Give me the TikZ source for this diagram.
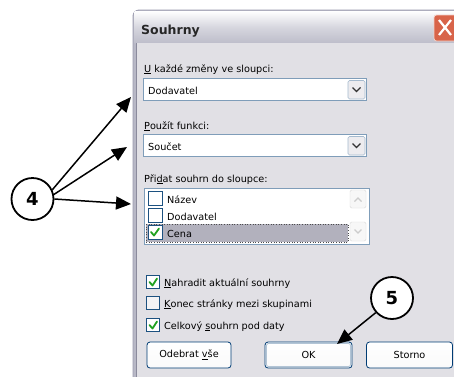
\documentclass[tikz,border=0pt]{standalone}
\usepackage{fontspec}
\setmainfont{DejaVu Sans}
\usetikzlibrary{arrows.meta}
\definecolor{dlgbg}{HTML}{E1E0E5}
\definecolor{frame}{HTML}{9A9AAE}
\definecolor{fieldborder}{HTML}{7F9DB9}
\definecolor{cbborder}{HTML}{1C5180}
\definecolor{checkgreen}{HTML}{21A121}
\definecolor{btnborder}{HTML}{003C74}
\definecolor{selgrey}{HTML}{B2B1BD}
\definecolor{closered}{HTML}{D8644A}
\tikzset{
  lbl/.style={anchor=base west, inner sep=0pt, font=\fontsize{9.7}{12}\selectfont},
  field/.style={draw=fieldborder, fill=white, line width=0.8pt},
  dropbtn/.style={draw=fieldborder!70, fill=dlgbg!60, rounded corners=1.5pt, line width=0.6pt},
  cbox/.style={draw=cbborder, fill=white, line width=0.8pt},
  chk/.style={draw=checkgreen, line width=1.8pt, line cap=round, line join=round},
  btn/.style={draw=btnborder, rounded corners=3pt, line width=0.8pt, top color=white, bottom color=dlgbg!85!black!8, shading angle=0},
  callout/.style={circle, draw=black, line width=1.8pt, minimum size=42pt, inner sep=0pt, fill=white, font=\bfseries\fontsize{18}{20}\selectfont},
  pointer/.style={-{Triangle[length=15pt,width=13pt]}, line width=1.5pt, black},
  chev/.style={draw=black!80, line width=1.3pt}
}
\begin{document}
\begin{tikzpicture}[x=1pt,y=-1pt]
\useasboundingbox (0,0) rectangle (454,376);
\begin{scope}
\clip (0,0) rectangle (454,376);
% dialog frame
\path[draw=frame, line width=0.8pt, rounded corners=6pt, fill=frame!70] (133,390) -- (133,10) -- (470,10) -- (470,390);
% title bar
\shade[top color=white, bottom color=frame!65, middle color=frame!40] (134.5,11) rectangle (470,43);
\fill[dlgbg] (137,43) rectangle (470,390);
\draw[frame!90!black, line width=0.6pt] (136.5,43) -- (136.5,390);
\node[anchor=base west, inner sep=0pt, font=\bfseries\fontsize{12.5}{14}\selectfont, text=black!85] (title) at (141,34) {Souhrny};
% close button
\node[draw=white!70!closered, fill=closered, rounded corners=2.5pt, minimum width=24pt, minimum height=26pt, inner sep=0pt, line width=0.8pt] (close) at (446,28) {};
\draw[white, line width=2.2pt] (439,20) -- (451,35) (439,35) -- (451,20);
\end{scope}

% group 1
\node[lbl] (l1) at (144,72) {\underline{U} každé změny ve sloupci:};
\draw[field] (143.5,78.5) rectangle (366.5,100.5);
\node[lbl] (v1) at (148,94) {Dodavatel};
\draw[dropbtn] (348,80.5) rectangle (365,99);
\draw[chev] (352.5,87.5) -- (356.5,91.5) -- (360.5,87.5);

% group 2
\node[lbl] (l2) at (144,129) {\underline{P}oužít funkci:};
\draw[field] (143.5,134.5) rectangle (366.5,156.5);
\node[lbl] (v2) at (148,150) {Součet};
\draw[dropbtn] (348,136.5) rectangle (365,155);
\draw[chev] (352.5,143.5) -- (356.5,147.5) -- (360.5,143.5);

% group 3 list
\node[lbl] (l3) at (144,182) {Při\underline{d}at souhrn do sloupce:};
\draw[field] (144.5,188.5) rectangle (369,244.5);
\fill[selgrey] (146,224) rectangle (348,242);
\draw[black!70, dotted, line width=0.6pt] (146,224) rectangle (348,242);
\draw[cbox] (148,191) rectangle (162,205);
\draw[cbox] (148,208) rectangle (162,222);
\draw[cbox] (148,225) rectangle (162,239);
\draw[chk] (151,232) -- (154,235.5) -- (159,228.5);
\node[lbl] (i1) at (167,203) {Název};
\node[lbl] (i2) at (167,220) {Dodavatel};
\node[lbl] (i3) at (167,237) {Cena};
% scrollbar
\draw[draw=black!15, fill=black!3, rounded corners=1.5pt] (350,190) rectangle (366,208);
\draw[draw=black!15, fill=black!3, rounded corners=1.5pt] (350,222) rectangle (366,241);
\draw[black!20, line width=1.2pt] (354.5,201.5) -- (358,198) -- (361.5,201.5);
\draw[black!20, line width=1.2pt] (354.5,229.5) -- (358,233) -- (361.5,229.5);

% checkboxes
\draw[cbox] (146.5,275.5) rectangle (159.5,288.5);
\draw[chk] (149.5,282) -- (152.5,285.5) -- (157,278.5);
\node[lbl] (c1) at (164,286) {\underline{N}ahradit aktuální souhrny};
\draw[cbox, fill=dlgbg!40] (146.5,296.5) rectangle (159.5,309.5);
\node[lbl] (c2) at (164,307) {\underline{K}onec stránky mezi skupinami};
\draw[cbox] (146.5,318.5) rectangle (159.5,331.5);
\draw[chk] (149.5,325) -- (152.5,328.5) -- (157,321.5);
\node[lbl] (c3) at (164,329) {Celkový \underline{s}ouhrn pod daty};

% buttons
\node[btn, minimum width=84pt, minimum height=26pt, inner sep=0pt, font=\fontsize{9.7}{12}\selectfont] (b1) at (189,355) {Odebrat \underline{v}še};
\node[btn, minimum width=87pt, minimum height=26pt, inner sep=0pt, font=\fontsize{9.7}{12}\selectfont] (b2) at (308.5,355) {OK};
\draw[fieldborder!60!white, line width=0.8pt, rounded corners=2pt] (266.5,343.5) rectangle (350.5,366.5);
\node[btn, minimum width=86pt, minimum height=26pt, inner sep=0pt, font=\fontsize{9.7}{12}\selectfont] (b3) at (409.5,355) {Storno};

% callouts
\node[callout] (c4) at (32.5,199) {4};
\node[callout] (c5) at (392,298) {5};
\coordinate (t1) at (131,97);
\coordinate (t2) at (127,147);
\coordinate (t3) at (131,204);
\coordinate (t5) at (337,344);
\draw[pointer] (c4.25) -- (t1);
\draw[pointer] (c4.12) -- (t2);
\draw[pointer] (c4.east) -- (t3);
\draw[pointer] (c5.222) -- (t5);
\end{tikzpicture}
\end{document}
